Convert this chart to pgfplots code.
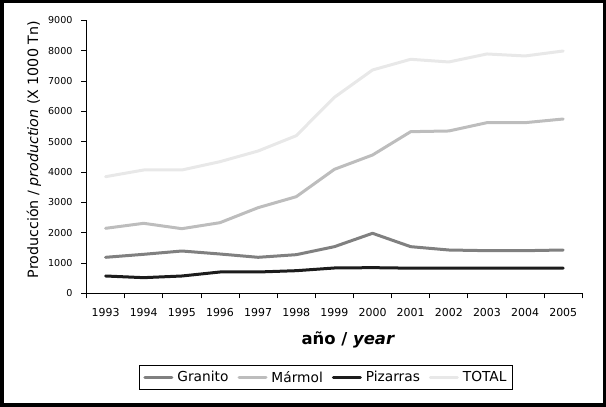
\documentclass[border=0pt]{standalone}
\usepackage{fontspec}
\setmainfont{DejaVu Sans}
\usepackage{pgfplots}
\usepackage{pgfplotstable}
\pgfplotsset{compat=1.18}
\definecolor{cgran}{gray}{0.50}
\definecolor{cmarm}{gray}{0.74}
\definecolor{cpiz}{gray}{0.11}
\definecolor{ctot}{gray}{0.91}
\pgfplotstableread{
x gran marm piz tot
0 1193 2149 577 3851
1 1292 2314 522 4072
2 1401 2137 577 4072
3 1302 2335 709 4346
4 1193 2830 709 4698
5 1280 3192 752 5203
6 1544 4094 841 6468
7 1985 4566 852 7369
8 1544 5335 835 7721
9 1434 5358 835 7633
10 1412 5632 835 7897
11 1412 5632 835 7831
12 1434 5753 835 7995
}\datatab
\begin{document}
\begin{tikzpicture}
\draw[line width=3.5bp] (1.75bp,1.75bp) rectangle (604.25bp,405.25bp);
\begin{axis}[
  at={(86.5bp,113.5bp)}, anchor=south west,
  scale only axis, width=495.8bp, height=273bp,
  xmin=-0.5, xmax=12.5, ymin=0, ymax=9000,
  axis lines=left, axis line style={-, line width=0.8bp, black},
  tick align=outside, major tick length=5bp,
  tick style={black, line width=0.8bp},
  xtick={-0.5,0.5,...,12.5}, xticklabels={},
  extra x ticks={0,1,...,12},
  extra x tick labels={1993,1994,1995,1996,1997,1998,1999,2000,2001,2002,2003,2004,2005},
  extra x tick style={major tick length=0pt, tick style={draw=none}},
  ytick={0,1000,...,9000},
  scaled y ticks=false,
  /pgf/number format/assume math mode=true,
  yticklabel={\pgfmathprintnumber[fixed,1000 sep={}]{\tick}},
  yticklabel style={font=\fontsize{9.6}{11}\selectfont, xshift=-5.5bp},
  xticklabel style={font=\fontsize{11}{12}\selectfont, yshift=-11bp},
  xlabel={\textbf{año / \textit{year}}},
  xlabel style={font=\fontsize{16.5}{18}\selectfont, at={(axis description cs:0.528,-0.185)}, anchor=base},
  ylabel={Producción / \textit{production} (X 1000 Tn)},
  ylabel style={font=\fontsize{14.3}{16}\selectfont, at={(axis description cs:-0.0978,0.527)}, anchor=base, rotate=0},
  legend columns=4,
  legend style={at={(axis description cs:0.483,-0.3077)}, anchor=center,
    draw=black, line width=0.8bp, font=\fontsize{13.8}{16}\selectfont,
    inner xsep=4bp, inner ysep=3.5bp,
    /tikz/every even column/.append style={column sep=7bp},
    /tikz/every odd column/.append style={column sep=2bp}},
  legend image code/.code={\draw[#1] (0bp,0bp) -- (27bp,0bp);},
  every axis plot/.append style={line width=3bp, line join=round, line cap=round},
]
\addplot[cgran] table[x=x, y=gran] {\datatab};
\addlegendentry{Granito}
\addplot[cmarm] table[x=x, y=marm] {\datatab};
\addlegendentry{Mármol}
\addplot[cpiz] table[x=x, y=piz] {\datatab};
\addlegendentry{Pizarras}
\addplot[ctot] table[x=x, y=tot] {\datatab};
\addlegendentry{TOTAL}
\end{axis}
\end{tikzpicture}
\end{document}
